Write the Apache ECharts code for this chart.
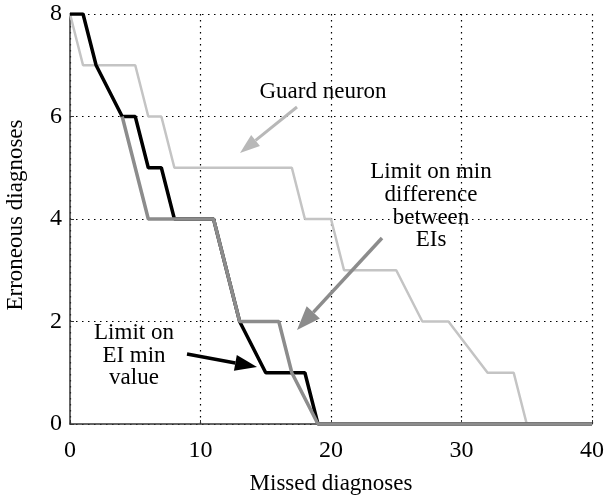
<!DOCTYPE html>
<html>
<head>
<meta charset="utf-8">
<script src="https://cdn.jsdelivr.net/npm/echarts@6/dist/echarts.min.js"></script>
<style>html,body{margin:0;padding:0;background:#fff}#c{width:605px;height:496px}</style>
</head>
<body>
<div id="c"></div>
<script>
// Data: [missed diagnoses, erroneous diagnoses]
const guardNeuron = [[0,8],[1,7],[5,7],[6,6],[7,6],[8,5],[17,5],[18,4],[20,4],[21,3],[25,3],[27,2],[29,2],[32,1],[34,1],[35,0],[40,0]];
const limitMinValue = [[0,8],[1,8],[2,7],[4,6],[5,6],[6,5],[7,5],[8,4],[11,4],[13,2],[15,1],[18,1],[19,0],[40,0]];
const limitMinDiff = [[4,6],[6,4],[11,4],[13,2],[16,2],[17,1],[19,0],[40,0]];
const xTicks = [0,10,20,30,40];
const yTicks = [0,2,4,6,8];

const FONT = 'Liberation Serif';
const chart = echarts.init(document.getElementById('c'), null, {renderer:'canvas'});

function arrow(x1,y1,x2,y2,color,w,headLen,headW){
  const dx=x2-x1, dy=y2-y1, L=Math.hypot(dx,dy), ux=dx/L, uy=dy/L;
  const bx=x2-ux*headLen, by=y2-uy*headLen;
  const px=-uy, py=ux;
  return [
    {type:'line', shape:{x1:x1,y1:y1,x2:bx,y2:by}, style:{stroke:color,lineWidth:w}, z:10},
    {type:'polygon', shape:{points:[[x2,y2],[bx+px*headW,by+py*headW],[bx-px*headW,by-py*headW]]}, style:{fill:color}, z:10}
  ];
}
function txt(x,y,s){
  return {type:'text', x:x, y:y, style:{text:s, font:'23px "'+FONT+'"', fill:'#000', align:'center', verticalAlign:'middle'}, z:11};
}

const option = {
  backgroundColor:'#fff',
  animation:false,
  grid:{left:70, right:13, top:14, bottom:72, containLabel:false, outerBoundsMode:'none'},
  xAxis:{
    type:'value', min:0, max:40, interval:10,
    name:'Missed diagnoses', nameLocation:'middle', nameGap:48,
    nameTextStyle:{fontFamily:FONT, fontSize:23, color:'#000'},
    axisLine:{show:true, onZero:false, lineStyle:{color:'#333', width:1.5}},
    axisTick:{show:true, inside:true, length:4, lineStyle:{color:'#333'}},
    axisLabel:{fontFamily:FONT, fontSize:24, color:'#000', margin:15,
      formatter:v=>xTicks.includes(v)?String(v):''},
    splitLine:{show:true, lineStyle:{color:'#000', type:[1.5,4.5], width:1.2}}
  },
  yAxis:{
    type:'value', min:0, max:8, interval:2,
    name:'Erroneous diagnoses', nameLocation:'middle', nameGap:43, nameRotate:90,
    nameTextStyle:{fontFamily:FONT, fontSize:23, color:'#000', padding:[0,0,0,8]},
    axisLine:{show:true, onZero:false, lineStyle:{color:'#333', width:1.5}},
    axisTick:{show:true, inside:true, length:4, lineStyle:{color:'#333'}},
    axisLabel:{fontFamily:FONT, fontSize:24, color:'#000', margin:8, padding:[6,0,0,0],
      formatter:v=>yTicks.includes(v)?String(v):''},
    splitLine:{show:true, lineStyle:{color:'#000', type:[1.5,4.5], width:1.2}}
  },
  series:[
    {name:'Guard neuron', type:'line', data:guardNeuron, showSymbol:false, symbol:'none',
      lineStyle:{color:'#c4c4c4', width:2.5}, z:2},
    {name:'Limit on EI min value', type:'line', data:limitMinValue, showSymbol:false, symbol:'none',
      lineStyle:{color:'#000', width:3.5}, z:3},
    {name:'Limit on min difference between EIs', type:'line', data:limitMinDiff, showSymbol:false, symbol:'none',
      lineStyle:{color:'#8c8c8c', width:3.5}, z:4}
  ]
};
chart.setOption(option);

const g = [];
g.push(txt(323,92,'Guard neuron'));
g.push(...arrow(297,107,240,153,'#b8b8b8',3,20,7));
g.push(txt(431,172,'Limit on min'));
g.push(txt(431,195,'difference'));
g.push(txt(431,218,'between'));
g.push(txt(431,240,'EIs'));
g.push(...arrow(382,238,297,330,'#8c8c8c',3.5,24,9));
g.push(txt(134,333,'Limit on'));
g.push(txt(134,356,'EI min'));
g.push(txt(134,378,'value'));
g.push(...arrow(187,354,257,367,'#000',3.5,22,8));
chart.setOption({graphic:g});
</script>
</body>
</html>
